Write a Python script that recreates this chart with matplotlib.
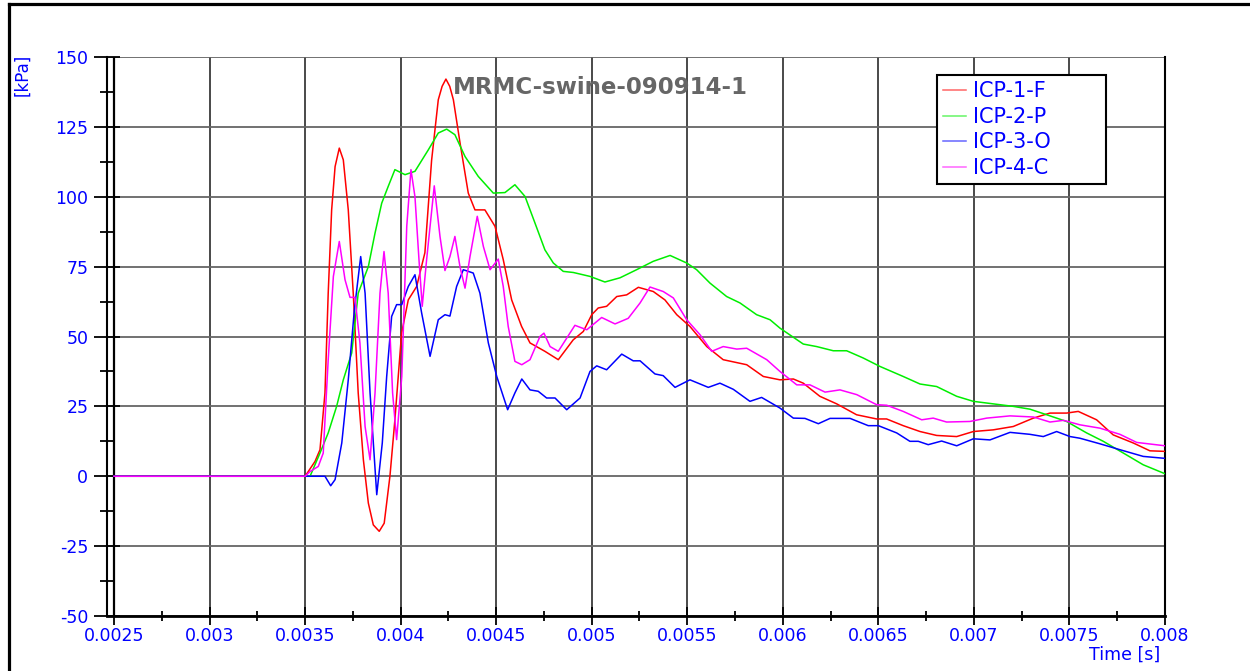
import numpy as np
import matplotlib
matplotlib.use('Agg')
import matplotlib.pyplot as plt
from matplotlib.lines import Line2D
from matplotlib.ticker import MultipleLocator, FixedLocator

plt.rcParams['font.family'] = ['DejaVu Sans']
plt.rcParams['axes.unicode_minus'] = False

# Series (time in ms, pressure in kPa)
red_t = [2.5, 3.5, 3.552, 3.578, 3.604, 3.621, 3.639, 3.657, 3.679, 3.700, 3.726, 3.752,
         3.778, 3.805, 3.831, 3.857, 3.888, 3.914, 3.944, 3.970, 4.005, 4.040, 4.084,
         4.127, 4.162, 4.197, 4.217, 4.237, 4.257, 4.276, 4.311,
         4.354, 4.389, 4.441, 4.494, 4.537, 4.581, 4.633, 4.677, 4.755, 4.825, 4.903,
         4.956, 5.000, 5.034, 5.078, 5.131, 5.183, 5.244, 5.322, 5.383, 5.445, 5.514,
         5.602, 5.688, 5.811, 5.898, 5.985, 6.055, 6.107, 6.194, 6.282, 6.386, 6.491,
         6.543, 6.630, 6.718, 6.805, 6.910, 6.997, 7.101, 7.206, 7.311, 7.398, 7.485,
         7.546, 7.642, 7.729, 7.834, 7.921, 8.0]
red_p = [0, 0, 5.3, 9.5, 29.8, 65.5, 95.3, 110.8, 117.4, 113.2, 95.3, 65.5,
         29.8, 5.9, -9.6, -17.4, -19.7, -16.8, 0, 20.2, 51.2, 63.1, 67.9,
         80, 113, 134.7, 139.5, 142.1, 139.5, 134.7, 119.2,
         101.3, 95.3, 95.3, 89.4, 77.5, 63.1, 53.6, 47.7, 44.7, 41.7, 48.8,
         51.8, 57.8, 60.2, 60.8, 64.3, 64.9, 67.6, 66.1, 63.1, 57.8, 53.6,
         46.4, 41.7, 39.9, 35.7, 34.5, 34.8, 33.3, 28.6, 25.9, 22, 20.5,
         20.5, 18.1, 16, 14.6, 14.2, 16, 16.6, 17.8, 20.8, 22.6, 22.6,
         23.2, 20.2, 14.8, 11.9, 9.1, 8.9]

green_t = [2.5, 3.526, 3.578, 3.621, 3.665, 3.700, 3.744, 3.778, 3.831, 3.866, 3.901,
           3.935, 3.970, 4.023, 4.075, 4.145, 4.197, 4.241, 4.284, 4.337, 4.406, 4.485,
           4.546, 4.598, 4.651, 4.703, 4.729, 4.755, 4.799, 4.851, 4.904, 4.991, 5.069,
           5.148, 5.235, 5.322, 5.410, 5.497, 5.549, 5.619, 5.706, 5.776, 5.863, 5.933,
           5.985, 6.107, 6.177, 6.264, 6.334, 6.421, 6.508, 6.630, 6.718, 6.805, 6.910,
           6.997, 7.101, 7.206, 7.293, 7.381, 7.485, 7.590, 7.677, 7.782, 7.886, 8.0]
green_p = [0, 0, 8.3, 15.5, 25, 34.5, 44.1, 65.5, 75, 87, 97.7,
           103.7, 109.7, 107.9, 109.1, 116.8, 122.8, 124.2, 122.2, 114.4, 107.3, 101.3,
           101.5, 104.3, 100.1, 90.6, 85.8, 81, 76.3, 73.3, 72.9, 71.5, 69.5,
           71, 73.9, 76.9, 79, 76.3, 73.9, 69.1, 64.3, 62, 57.8, 56,
           53, 47.3, 46.4, 44.9, 44.9, 42.3, 39.3, 35.7, 33, 32.1, 28.6,
           26.8, 25.9, 25, 24, 22, 19.6, 15.5, 12.5, 8.3, 4.1, 0.9]

blue_t = [2.5, 3.604, 3.634, 3.657, 3.692, 3.726, 3.758, 3.791, 3.814, 3.840, 3.875,
          3.904, 3.927, 3.953, 3.979, 4.006, 4.040, 4.075, 4.110, 4.154, 4.197, 4.232,
          4.258, 4.293, 4.328, 4.380, 4.415, 4.459, 4.503, 4.560, 4.598, 4.634, 4.677,
          4.720, 4.764, 4.808, 4.869, 4.939, 4.991, 5.026, 5.078, 5.157, 5.217, 5.253,
          5.331, 5.374, 5.436, 5.514, 5.610, 5.671, 5.741, 5.828, 5.889, 5.985, 6.055,
          6.116, 6.186, 6.247, 6.352, 6.447, 6.500, 6.596, 6.665, 6.709, 6.761, 6.831,
          6.910, 6.997, 7.084, 7.189, 7.293, 7.363, 7.433, 7.503, 7.555, 7.660, 7.764,
          7.886, 8.0]
blue_p = [0, 0, -3.4, -1.2, 11.9, 34.5, 59.6, 78.6, 65.5, 29.8, -6.6,
          11.9, 35.7, 57.2, 61.4, 61.4, 67.9, 72.1, 58.4, 42.9, 56, 57.8,
          57.3, 67.9, 73.9, 72.7, 65.5, 47.7, 35.7, 23.8, 29.8, 34.8, 30.9,
          30.4, 28, 28, 23.8, 28, 37.5, 39.5, 38.1, 43.7, 41.3, 41.3,
          36.6, 36, 31.8, 34.5, 31.8, 33.3, 31.1, 26.8, 28.2, 24.4, 20.8,
          20.7, 18.8, 20.7, 20.7, 18.1, 18.1, 15.5, 12.5, 12.5, 11.3, 12.6,
          10.9, 13.4, 13, 15.7, 15, 14.2, 16, 14.2, 13.6, 11.6, 9.5,
          7.1, 6.4]

magenta_t = [2.5, 3.5, 3.526, 3.569, 3.595, 3.621, 3.648, 3.679, 3.709, 3.735, 3.761,
             3.787, 3.814, 3.840, 3.866, 3.892, 3.913, 3.935, 3.958, 3.979, 4.006, 4.032,
             4.054, 4.075, 4.096, 4.113, 4.136, 4.176, 4.206, 4.232, 4.258, 4.284, 4.311,
             4.337, 4.363, 4.401, 4.433, 4.468, 4.511, 4.537, 4.563, 4.598, 4.634, 4.677,
             4.729, 4.750, 4.782, 4.825, 4.869, 4.912, 4.974, 5.052, 5.122, 5.191, 5.253,
             5.305, 5.374, 5.427, 5.497, 5.567, 5.628, 5.688, 5.759, 5.811, 5.916, 5.985,
             6.073, 6.142, 6.221, 6.299, 6.387, 6.491, 6.544, 6.630, 6.727, 6.787, 6.857,
             6.979, 7.067, 7.189, 7.311, 7.398, 7.469, 7.555, 7.660, 7.764, 7.852, 8.0]
magenta_p = [0, 0, 1.7, 3.5, 8.3, 41.7, 71.5, 84, 70.3, 64, 64,
             47.7, 17.8, 5.9, 29.8, 65.5, 80.4, 65.5, 29.8, 13.1, 35.7, 89.4,
             109.7, 100, 77.5, 60.8, 77.5, 103.9, 85.8, 73.6, 78.6, 85.8, 74.8,
             67.3, 78.6, 93, 82.2, 73.9, 77.7, 67.9, 53.6, 41.1, 39.9, 41.7,
             50, 51.2, 46.4, 44.7, 49.4, 54, 52.4, 56.8, 54.5, 56.5, 62,
             67.7, 66.1, 63.8, 56, 50.6, 44.7, 46.4, 45.5, 45.8, 41.7, 37.5,
             32.7, 32.7, 30.1, 30.9, 29.2, 25.6, 25.4, 23.2, 20.2, 20.8, 19.4,
             19.6, 20.8, 21.6, 21.2, 19.4, 20, 18.4, 17.2, 15, 12.1, 10.9]

labels = ['ICP-1-F', 'ICP-2-P', 'ICP-3-O', 'ICP-4-C']
colors = ['#ff0000', '#00ee00', '#0000ff', '#ff00ff']
x_ticks = [0.0025, 0.003, 0.0035, 0.004, 0.0045, 0.005, 0.0055, 0.006, 0.0065, 0.007, 0.0075, 0.008]
x_ticklabels = ['0.0025', '0.003', '0.0035', '0.004', '0.0045', '0.005', '0.0055',
                '0.006', '0.0065', '0.007', '0.0075', '0.008']
y_ticks = [-50, -25, 0, 25, 50, 75, 100, 125, 150]

fig = plt.figure(figsize=(12.5, 6.71), dpi=100)
ax = fig.add_axes([107 / 1250, 55 / 671, 1058 / 1250, 559 / 671])

series = [(red_t, red_p), (green_t, green_p), (blue_t, blue_p), (magenta_t, magenta_p)]
for (t, p), lab, c in zip(series, labels, colors):
    ax.plot(np.array(t) / 1000, p, color=c, lw=1.1, label=lab, zorder=3)

ax.set_xlim(0.0024634, 0.008)
ax.set_ylim(-50, 150)

ax.xaxis.set_major_locator(FixedLocator(x_ticks))
ax.set_xticklabels(x_ticklabels)
ax.xaxis.set_minor_locator(FixedLocator([x + 0.00025 for x in x_ticks[:-1]]))
ax.set_yticks(y_ticks)
ax.yaxis.set_minor_locator(MultipleLocator(12.5))

ax.tick_params(axis='x', which='major', direction='inout', length=13.5, width=1.3,
               colors='black', labelcolor='blue', labelsize=12.5, pad=1.5)
ax.tick_params(axis='x', which='minor', direction='inout', length=7, width=1.3)
ax.tick_params(axis='y', which='major', direction='inout', length=19, width=1.3,
               colors='black', labelcolor='blue', labelsize=12.5, pad=4)
ax.tick_params(axis='y', which='minor', direction='inout', length=9.5, width=1.3)

ax.grid(True, axis='x', which='major', color='#3a3a3a', lw=1.3)
ax.grid(True, axis='y', which='major', color='#666666', lw=1.3)
ax.axvline(0.0025, color='black', lw=1.6, zorder=2)

ax.spines['top'].set_visible(False)
ax.spines['right'].set_color('black')
ax.spines['right'].set_linewidth(1.5)
ax.spines['left'].set_linewidth(1.5)
ax.spines['bottom'].set_linewidth(2)

leg = ax.legend(loc='upper left',
                bbox_to_anchor=(937 / 1250, (671 - 185) / 671, 169 / 1250, 110 / 671),
                bbox_transform=fig.transFigure, mode='expand', borderaxespad=0,
                fancybox=False, edgecolor='black', framealpha=1, fontsize=15,
                handlelength=1.1, handletextpad=0.35, labelspacing=0.27, borderpad=0.3)
leg.get_frame().set_linewidth(1.5)
for txt in leg.get_texts():
    txt.set_color('blue')
for ln in leg.get_lines():
    ln.set_alpha(0.6)

fig.text(600 / 1250, 1 - 88 / 671, 'MRMC-swine-090914-1', ha='center', va='center',
         fontsize=16.5, fontweight='bold', color='#666666')
fig.text(22 / 1250, 1 - 75 / 671, '[kPa]', rotation=90, ha='center', va='center',
         fontsize=12, color='blue')
fig.text(1125 / 1250, 1 - 655 / 671, 'Time [s]', ha='center', va='center',
         fontsize=12.5, color='blue')

# outer frame (only left and top edges fall inside the picture)
fig.add_artist(Line2D([8.5 / 1250, 8.5 / 1250], [0, 1 - 3.5 / 671], color='black', lw=2.3))
fig.add_artist(Line2D([8.5 / 1250, 1], [1 - 3.5 / 671, 1 - 3.5 / 671], color='black', lw=2.3))

fig.savefig('out.png', dpi=100)
